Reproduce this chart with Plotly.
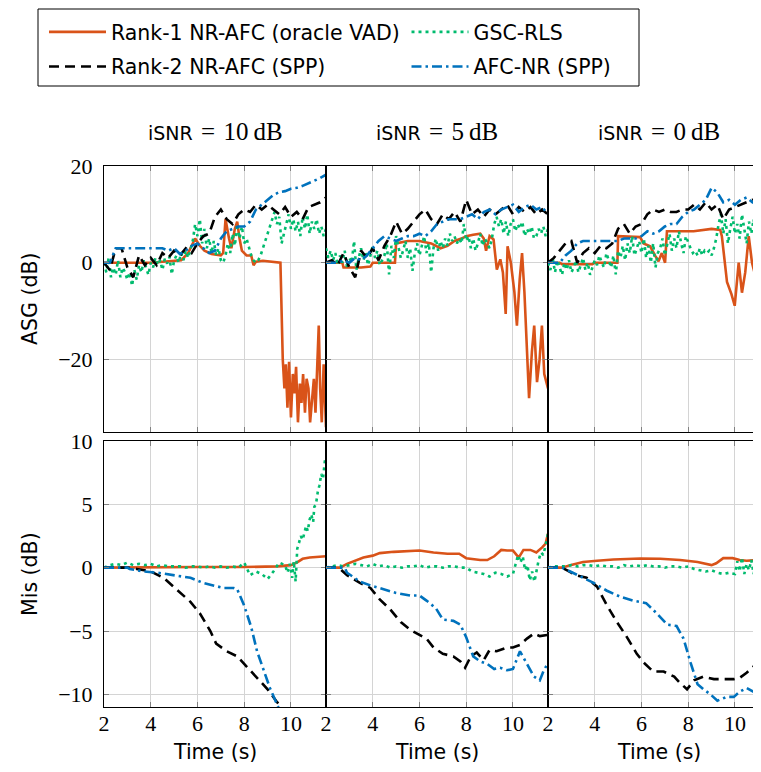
import plotly.graph_objects as go
from plotly.subplots import make_subplots

# ---------------- data ----------------
def t_grid(start, step, n):
    return [round(start + step * i, 3) for i in range(n)]

# ---- ASG (dB) ----
# Rank-1 NR-AFC (oracle VAD)
asg10_r1_t = [2.0, 3.0, 4.0, 4.5, 5.0, 5.3, 5.6, 5.9, 6.1, 6.3, 6.6, 7.0, 7.1, 7.2, 7.35, 7.45, 7.6, 7.7,
              7.8, 7.9, 8.1, 8.3, 8.4, 8.5, 8.8, 9.1, 9.4, 9.55, 9.65, 9.72, 9.78, 9.85, 9.92, 10.0, 10.08,
              10.15, 10.22, 10.3, 10.38, 10.45, 10.52, 10.6, 10.67, 10.75, 10.82, 10.9, 10.98, 11.05, 11.12,
              11.19, 11.25, 11.32, 11.4, 11.5]
asg10_r1 = [0, 0, 0, 0.2, 0.3, 0.5, 2.0, 5.0, 3.5, 2.5, 1.8, 1.5, 2.0, 9.0, 5.0, 3.0, 7.0, 8.5,
            5.0, 2.5, 1.5, 1.5, -0.5, 0.2, 0.4, 0.3, 0.2, 0, -20, -26, -21, -30, -20.5, -32, -23,
            -27, -21.5, -33, -25, -29, -23, -31, -24, -26, -33, -28, -24, -31, -22,
            -13, -26, -33, -21, -34]
asg5_r1_t = [2.0, 2.7, 2.75, 3.5, 3.9, 4.0, 4.95, 5.0, 5.5, 6.0, 6.5, 6.9, 7.2, 7.5, 7.8, 8.0, 8.3, 8.6,
             8.75, 8.85, 9.0, 9.17, 9.31, 9.46, 9.57, 9.69, 9.77, 9.91, 10.06, 10.17, 10.29, 10.39, 10.49,
             10.6, 10.69, 10.81, 10.91, 11.03, 11.14, 11.24, 11.34, 11.5]
asg5_r1 = [0, 0, -1, -1, -0.8, 0, 0, 4.0, 4.5, 4.5, 4.0, 3.0, 3.5, 4.5, 5.0, 5.5, 5.8, 6.0,
           5.0, 2.5, 5.5, 4.8, -1.4, 0.7, -2.0, -10.6, 3.4, 0, -6, -13, -3.4, 2.0, -6,
           -20, -28, -18.5, -13, -24.7, -20, -13, -23, -26]
asg0_r1_t = [2.0, 2.5, 2.6, 3.9, 4.0, 4.97, 5.0, 5.94, 6.09, 6.37, 6.59, 6.73, 6.87, 7.01, 7.09, 8.23,
             9.0, 9.37, 9.44, 9.66, 9.85, 9.99, 10.16, 10.3, 10.44, 10.59, 10.73, 10.87, 11.01, 11.13]
asg0_r1 = [0, 0, -0.3, -0.3, 0, 0, 5.5, 5.3, 4.0, 3.4, 1.4, 0.3, 2.0, 0, 6.5, 6.5,
           7.0, 6.8, 5.5, -4, -6.5, -8.9, 0, -6.2, -2, 5.5, 0, -2.7, -0.7, -1.4]

# GSC-RLS (sampled every 0.1 s from 2 s)
asg10_gsc = [0, -2, 1, -3, -1, -2.5, 0.5, -3, -1, -2, -3.5,
             -2, -4.8, -1.5, -3.5, -0.5, -2, 0.5, -1, -2.5, 0,
             -1, 1, -0.5, 0.5, -1.5, 0.8, -0.2, 1.2, -2.4, 0.5,
             1.5, 0, 2, 0.5, 2.5, 1, 3, 4.5, 8, 5.5,
             9, 4, 7, 3, 5, 2, 4.5, 1.5, 3, 0.5,
             0, 1.5, 4, 2, 6, 3.5, 8, 5, 7.5, 4,
             5, 3, 1.5, 0.5, 0, 0.5, 1.5, 3, 4.5, 6,
             7.5, 9, 10.5, 8, 9.5, 4, 6, 8.5, 10, 7,
             9, 6.5, 8.5, 5.5, 9.5, 7, 10, 6, 8.5, 7,
             9, 6, 7.5, 5.5, 7]
asg5_gsc = [3, 1, 2.5, 0.5, 2, -0.5, 1.5, 0, 2.5, -1, 1,
            0, 4.5, -1.5, 1, 3, 0.5, 2, -0.5, 1.5, 3.5,
            1, 2.5, -0.5, 0.5, 1.5, 4, -2.4, 3.5, 1, 5.5,
            3, 1, 2.5, 4.5, 1, 3, -1.7, 2, 4, 1.5,
            3.5, 5.5, 2, 4, -2, 3, 5, 2.5, 4.5, 3,
            5, 3.5, 6, 4.5, 5.5, 4, 5, 4, 8, 4.5,
            5.5, 3, 5, 2.5, 4, 6, 3.5, 5, 4, 3,
            5, 8, 9.5, 7.5, 9, 6, 8.5, 5.5, 8, 9,
            6.5, 8, 7, 8.5, 5.5, 7, 6, 7.5, 5, 5.5,
            7, 6, 7.5, 5.5, 7]
asg0_gsc = [0, -1.5, 1, -2, 0.5, -1, -2.5, 0, -1.5, 0.5, -2,
            -1, 0.5, -2, -0.5, 1, -1.5, 0, -2.5, -1, 0.5,
            -0.5, 1.5, 0, -1, 2, 0.5, -1, 1.5, -2.4, 2.5,
            1, 3.5, 0.5, 4, 2, 5.5, 1.5, 3, 4.5, 2,
            5, 1, 3.5, 0, 4, -1, 2, 3, 5, 1.5,
            4, 6, 2.5, 5, 3, 6.5, 4, 2, 5.5, 4,
            3, 2, 2.5, 1.5, 3, 1.5, 2.5, 2, 2.5, 1.5,
            3, 5, 8, 10, 6, 9, 4, 7, 9.5, 6,
            8, 5, 10, 7, 4, 8.5, 6, 9, 5, 7.5, 6]

# Rank-2 NR-AFC (SPP) (sampled every 0.25 s from 2 s)
asg10_r2 = [0, -1.5, 3, 3, -1, -3, 1.5, -0.5, 1, -0.5, 2, 1, 2.5, 1.5, 3, 2, 4, 5.5, 6, 9.5,
            11, 9, 8, 10, 11, 10.5, 12, 11, 12, 11, 10, 11.5, 9.5, 10.5, 9, 11.5, 12, 12.5, 13.5]
asg5_r2 = [0, 0.5, -0.5, 2, -1, -3, 2.5, 1, 3, 0.5, 3.5, 5.5, 8.5, 6, 7, 8.5, 10, 11, 9, 8,
           10, 9, 10.5, 8.5, 13, 10, 11, 9.5, 11, 10, 11, 12, 10, 11.5, 10.5, 11.5, 10, 11, 10]
asg0_r2 = [0, 1, 2.5, 4, 4.5, 0, 2, 3, 2, 3.5, 3, 4, 7, 8, 6, 7.5, 8, 10, 11, 10.5,
           11, 10.5, 10.5, 11, 11, 12, 11, 12.5, 11, 12, 9, 11, 11.5, 12, 12.5, 13, 12.5, 13]

# AFC-NR (SPP) (sampled every 0.25 s from 2 s)
asg10_afc = [0, 0, 3, 3, 3, 3, 3, 3, 3, 3, 3, 2.5, 3, 1.8, 2.5, 3.5, 4, 3, 2, 2.5,
             5, 6.5, 7, 7.5, 7.5, 8.5, 11, 12, 13, 14, 14.6, 14.8, 15.3, 15.5, 15.9, 16.4, 16.9, 17.5, 18.2]
asg5_afc = [0, 0, 0, 0.5, 0, 1, 0.5, 1.5, 3, 4.5, 5.5, 5, 4.5, 5, 5.5, 5.5, 6, 5.5, 6.5, 8,
            8.5, 9, 9, 9, 9.5, 10, 9, 10.5, 11, 10, 11, 11.5, 12, 10.5, 11.5, 12, 11, 11.5, 10]
asg0_afc = [0, 0, 0, 1.5, 2.5, 4, 4.5, 4.5, 4.5, 4.5, 4.5, 4.5, 4.5, 5, 5, 5, 5.5, 6.5, 6, 6.5,
            7.5, 8, 8, 9.5, 10.5, 11, 12, 13, 15.5, 14.5, 12.5, 13, 12, 13, 13.5, 12.5, 13.5, 14]

# ---- Mis (dB) ----
mis10_r1_t = [2.0, 4.0, 6.0, 8.0, 9.4, 10.0, 10.25, 10.5, 10.8, 11.5]
mis10_r1 = [0, 0.05, 0.05, 0.05, 0.1, 0.2, 0.4, 0.7, 0.8, 0.9]
mis5_r1_t = [2.0, 2.6, 2.9, 3.2, 3.6, 4.0, 4.3, 4.9, 5.5, 6.0, 6.6, 7.2, 7.7, 8.0, 8.6, 8.9, 9.2, 9.5,
             9.75, 10.0, 10.25, 10.45, 10.75, 11.0, 11.25, 11.4, 11.5]
mis5_r1 = [0, 0, 0.3, 0.5, 0.8, 0.95, 1.15, 1.25, 1.3, 1.35, 1.2, 1.1, 1.1, 0.75, 0.6, 0.6, 0.9, 1.4,
           1.35, 1.35, 0.8, 1.4, 1.4, 1.2, 1.6, 1.9, 2.7]
mis0_r1_t = [2.0, 2.6, 2.95, 3.5, 4.1, 4.8, 5.95, 6.8, 7.65, 8.4, 9.0, 9.2, 9.5, 9.9, 10.2, 10.5, 11.1]
mis0_r1 = [0, 0, 0.2, 0.45, 0.55, 0.65, 0.72, 0.7, 0.6, 0.45, 0.2, 0.35, 0.75, 0.75, 0.6, 0.55, 0.6]

mis10_gsc_t = [2.0, 2.25, 2.5, 2.75, 3.0, 3.25, 3.5, 3.75, 4.0, 4.25, 4.5, 4.75, 5.0, 5.25, 5.5, 5.75,
               6.0, 6.25, 6.5, 6.75, 7.0, 7.25, 7.5, 7.75, 8.0, 8.25, 8.5, 8.75, 9.0, 9.25, 9.5, 9.75,
               9.85, 9.95, 10.05, 10.12, 10.2, 10.27, 10.35, 10.42, 10.5, 10.57, 10.65, 10.72, 10.8,
               10.87, 10.95, 11.0, 11.07, 11.15, 11.22, 11.3, 11.37, 11.45, 11.5]
mis10_gsc = [0, 0.2, 0.3, 0.2, 0.4, 0.2, 0.3, 0.2, 0.3, 0.1, 0.2, 0.1, 0.1, 0.1, 0.0, 0.1,
             0.1, 0.0, 0.1, 0.0, 0.1, 0.0, 0.1, 0.0, 0.4, -0.6, -0.3, -0.5, -0.9, -0.3, 0.4, 0.2,
             -0.4, 0.3, -0.8, 0.5, -1.1, 1.5, 2.0, 2.5, 2.2, 2.8, 3.3, 2.9, 3.8,
             4.2, 3.6, 4.8, 5.0, 6.0, 6.5, 7.4, 7.0, 8.4, 8.7]
mis5_gsc_t = [2.0, 2.25, 2.5, 2.75, 3.0, 3.25, 3.5, 3.75, 4.0, 4.25, 4.5, 4.75, 5.0, 5.25, 5.5, 5.75,
              6.0, 6.25, 6.5, 6.75, 7.0, 7.25, 7.5, 7.75, 8.0, 8.25, 8.5, 8.75, 9.0, 9.25, 9.5, 9.75,
              10.0, 10.12, 10.22, 10.32, 10.42, 10.52, 10.62, 10.72, 10.82, 10.92, 11.0, 11.1, 11.2,
              11.3, 11.4, 11.5]
mis5_gsc = [0, 0.1, 0.2, 0.1, 0.2, 0.3, 0.2, 0.1, 0.3, 0.1, 0.2, 0.0, 0.1, 0.0, 0.1, 0.1,
            0.2, 0.0, 0.1, 0.1, 0.0, 0.1, 0.1, 0.0, 0.0, -0.3, -0.4, -0.5, -0.7, -0.4, -0.5, -0.7,
            -0.5, 0.3, 1.0, 0.4, 0.9, -0.2, 0.2, -1.0, -0.3, -1.1, -0.2, 0.6, 1.2,
            1.0, 1.8, 2.7]
mis0_gsc_t = [2.0, 2.25, 2.5, 2.75, 3.0, 3.25, 3.5, 3.75, 4.0, 4.25, 4.5, 4.75, 5.0, 5.25, 5.5, 5.75,
              6.0, 6.25, 6.5, 6.75, 7.0, 7.25, 7.5, 7.75, 8.0, 8.25, 8.5, 8.75, 9.0, 9.25, 9.5, 9.75,
              10.0, 10.1, 10.2, 10.3, 10.4, 10.5, 10.6, 10.7, 10.8, 10.9, 11.0, 11.1]
mis0_gsc = [0, 0.1, 0.1, 0.1, 0.2, 0.1, 0.2, 0.2, 0.1, 0.2, 0.1, 0.1, 0.0, 0.2, 0.1, 0.2,
            0.1, 0.2, 0.1, 0.1, 0.0, 0.1, 0.1, 0.0, 0.1, -0.1, -0.2, -0.3, -0.2, -0.4, -0.5, -0.4,
            -0.5, 0.5, -0.3, 0.8, -0.5, 0.3, -0.2, 0.6, -0.5, 0.3, -0.1, 0.4]

mis10_r2_t = [2.0, 3.0, 3.4, 4.0, 4.55, 5.1, 5.7, 6.1, 6.55, 6.8, 7.25, 7.7, 8.1, 8.55, 9.0, 9.4, 9.7]
mis10_r2 = [0, 0, -0.1, -0.3, -0.8, -1.7, -2.7, -3.6, -5.0, -6.0, -6.6, -7.0, -7.8, -8.7, -9.6, -10.6, -11.3]
mis5_r2_t = [2.0, 2.5, 2.6, 2.9, 3.45, 3.9, 4.3, 4.75, 5.2, 5.6, 6.0, 6.3, 6.6, 7.0, 7.45, 7.75, 7.95,
             8.2, 8.45, 8.75, 9.0, 9.3, 9.75, 10.0, 10.3, 10.6, 10.9, 11.15, 11.5]
mis5_r2 = [0, 0, -0.1, -0.6, -1.2, -1.6, -2.5, -3.3, -4.3, -4.9, -5.3, -5.6, -6.3, -6.8, -7.0, -7.4, -7.9,
           -7.0, -6.7, -7.3, -6.5, -6.6, -6.3, -6.3, -6.1, -5.6, -5.2, -5.4, -5.3]
mis0_r2_t = [2.0, 2.6, 2.8, 3.2, 3.65, 4.1, 4.5, 4.95, 5.35, 5.8, 6.1, 6.5, 6.95, 7.4, 7.65, 7.95, 8.25,
             8.65, 9.1, 9.5, 9.95, 10.2, 10.5, 10.8, 11.1]
mis0_r2 = [0, 0, -0.2, -0.6, -0.8, -1.5, -2.9, -4.3, -5.4, -6.8, -7.5, -8.2, -8.2, -8.6, -9.1, -9.6, -8.9,
           -8.6, -8.8, -8.8, -8.8, -8.7, -8.3, -7.8, -7.6]

mis10_afc_t = [2.0, 3.0, 3.1, 3.7, 4.3, 5.0, 5.7, 6.25, 6.7, 7.1, 7.55, 7.7, 8.0, 8.3, 8.55, 8.8, 9.1, 9.5]
mis10_afc = [0, 0, -0.1, -0.3, -0.4, -0.6, -0.8, -1.2, -1.4, -1.6, -1.6, -1.7, -3.0, -4.7, -6.6, -8.0, -9.5, -11.2]
mis5_afc_t = [2.0, 2.8, 2.9, 3.45, 3.9, 4.45, 5.0, 5.6, 6.0, 6.3, 6.7, 7.0, 7.45, 7.75, 8.0, 8.3, 8.6,
              8.9, 9.2, 9.45, 9.75, 10.0, 10.3, 10.6, 10.9, 11.15, 11.3, 11.5]
mis5_afc = [0, 0, -0.4, -1.1, -1.4, -1.7, -2.0, -2.2, -2.2, -2.6, -3.2, -4.1, -4.2, -4.5, -5.5, -7.0, -7.4,
            -7.6, -8.0, -7.9, -8.1, -8.0, -6.6, -7.6, -8.6, -8.9, -8.2, -7.5]
mis0_afc_t = [2.0, 2.6, 2.95, 3.5, 3.95, 4.5, 5.1, 5.65, 6.2, 6.65, 7.1, 7.5, 7.8, 8.1, 8.4, 8.65, 8.95,
              9.25, 9.65, 9.95, 10.2, 10.5, 10.8, 11.1]
mis0_afc = [0, 0, -0.3, -0.8, -1.2, -1.8, -2.3, -2.6, -2.8, -3.6, -4.5, -4.6, -5.6, -7.5, -9.2, -9.6, -10.0,
            -10.5, -10.2, -10.2, -9.8, -9.5, -9.8, -10.0]

col_titles = ["10", "5", "0"]
x_ticks = [2, 4, 6, 8, 10]
asg_ticks = [-20, 0, 20]
mis_ticks = [-10, -5, 0, 5, 10]

# ---------------- layout geometry (figure pixels; page body adds an 8 px offset) ----------------
SANS = "DejaVu Sans"
SERIF = "Liberation Serif"
C_R1, C_GSC, C_R2, C_AFC = "#D95319", "#00BB6E", "#000000", "#0072BD"
W, H = 753, 764
ML, MR, MT, MB = 96, 0, 158, 65
PW, PH = W - ML - MR, H - MT - MB
PX_PER_S = 222 / 9.5


def px(fx):
    return (fx - ML) / PW


def py(fy):
    return 1 - (fy - MT) / PH


fig = make_subplots(rows=2, cols=3, column_widths=[222, 222, 213],
                    horizontal_spacing=0, vertical_spacing=9 / PH)

names = ["Rank-1 NR-AFC (oracle VAD)", "GSC-RLS", "Rank-2 NR-AFC (SPP)", "AFC-NR (SPP)"]
styles = [
    dict(color=C_R1, width=2.6, dash="solid"),
    dict(color=C_GSC, width=2.6, dash="3px,4px"),
    dict(color=C_R2, width=2.6, dash="10px,6px"),
    dict(color=C_AFC, width=2.6, dash="10px,4px,2.5px,4px"),
]
legends = ["legend", "legend2", "legend", "legend2"]

asg_data = [
    [(asg10_r1_t, asg10_r1), (t_grid(2, 0.1, len(asg10_gsc)), asg10_gsc),
     (t_grid(2, 0.25, len(asg10_r2)), asg10_r2), (t_grid(2, 0.25, len(asg10_afc)), asg10_afc)],
    [(asg5_r1_t, asg5_r1), (t_grid(2, 0.1, len(asg5_gsc)), asg5_gsc),
     (t_grid(2, 0.25, len(asg5_r2)), asg5_r2), (t_grid(2, 0.25, len(asg5_afc)), asg5_afc)],
    [(asg0_r1_t, asg0_r1), (t_grid(2, 0.1, len(asg0_gsc)), asg0_gsc),
     (t_grid(2, 0.25, len(asg0_r2)), asg0_r2), (t_grid(2, 0.25, len(asg0_afc)), asg0_afc)],
]
mis_data = [
    [(mis10_r1_t, mis10_r1), (mis10_gsc_t, mis10_gsc), (mis10_r2_t, mis10_r2), (mis10_afc_t, mis10_afc)],
    [(mis5_r1_t, mis5_r1), (mis5_gsc_t, mis5_gsc), (mis5_r2_t, mis5_r2), (mis5_afc_t, mis5_afc)],
    [(mis0_r1_t, mis0_r1), (mis0_gsc_t, mis0_gsc), (mis0_r2_t, mis0_r2), (mis0_afc_t, mis0_afc)],
]

for row, data in ((1, asg_data), (2, mis_data)):
    for c in range(3):
        for k in range(4):
            t, y = data[c][k]
            fig.add_trace(go.Scatter(
                x=t, y=y, mode="lines", name=names[k], line=styles[k],
                legend=legends[k], legendgroup=names[k], showlegend=(row == 1 and c == 0),
            ), row=row, col=c + 1)

axis_common = dict(showgrid=True, gridcolor="#d4d4d4", gridwidth=1, ticks="inside", ticklen=5,
                   tickcolor="#808080", showline=True, linecolor="black", linewidth=1,
                   zeroline=False, tickfont=dict(family=SERIF, size=22, color="black"))

for row in (1, 2):
    for c in range(3):
        xr = [2, 11.5] if c < 2 else [2, 2 + 213 / PX_PER_S]
        fig.update_xaxes(range=xr, tickvals=x_ticks, showticklabels=(row == 2),
                         mirror="allticks", ticklabelstandoff=-3, **axis_common, row=row, col=c + 1)
        if row == 1:
            fig.update_yaxes(range=[-35, 20], tickvals=asg_ticks, row=row, col=c + 1)
        else:
            fig.update_yaxes(range=[-11, 10], tickvals=mis_ticks, row=row, col=c + 1)
        fig.update_yaxes(showticklabels=(c == 0), mirror=("allticks" if c < 2 else False),
                         ticklabelstandoff=6, **axis_common, row=row, col=c + 1)

annotations = []
col_centers = [207, 429, 651]
for c, v in enumerate(col_titles):
    annotations.append(dict(
        text='<span style="font-family:%s;font-size:19px">iSNR</span>\u2004=\u2004%s\u2009dB' % (SANS, v),
        x=px(col_centers[c]), y=py(123), xref="paper", yref="paper",
        xanchor="center", yanchor="middle", showarrow=False,
        font=dict(family=SERIF, size=25, color="black")))
    annotations.append(dict(
        text="Time (s)", x=px(col_centers[c]), y=py(744), xref="paper", yref="paper",
        xanchor="center", yanchor="middle", showarrow=False,
        font=dict(family=SANS, size=20.5, color="black")))
annotations.append(dict(text="ASG (dB)", x=px(22), y=py(291), xref="paper", yref="paper",
                        xanchor="center", yanchor="middle", textangle=-90, showarrow=False,
                        font=dict(family=SANS, size=20.5, color="black")))
annotations.append(dict(text="Mis (dB)", x=px(22), y=py(566), xref="paper", yref="paper",
                        xanchor="center", yanchor="middle", textangle=-90, showarrow=False,
                        font=dict(family=SANS, size=20.5, color="black")))

legend_common = dict(orientation="v", bgcolor="rgba(0,0,0,0)", borderwidth=0,
                     font=dict(family=SANS, size=20.5, color="black"), itemwidth=57,
                     xanchor="left", yanchor="top", tracegroupgap=5, traceorder="grouped")

fig.update_layout(
    width=W, height=H, margin=dict(l=ML, r=MR, t=MT, b=MB, autoexpand=False),
    paper_bgcolor="white", plot_bgcolor="white", showlegend=True,
    legend=dict(x=px(36), y=py(4.0), **legend_common),
    legend2=dict(x=px(398.5), y=py(4.0), **legend_common),
    annotations=annotations,
    shapes=[dict(type="rect", xref="paper", yref="paper", x0=px(30), x1=px(631),
                 y0=py(78), y1=py(1), line=dict(color="black", width=1),
                 fillcolor="white", layer="below")],
)

fig.write_html("out.html")
